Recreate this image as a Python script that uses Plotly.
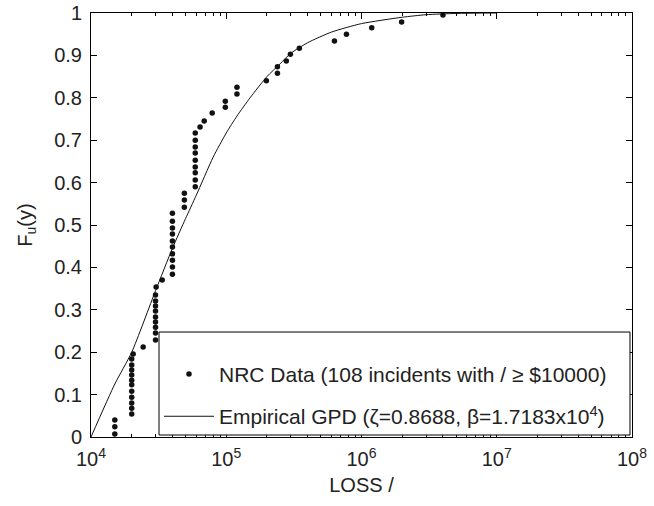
import plotly.graph_objects as go

# NRC loss data (empirical CDF points)
nrc_loss = [15000, 15000, 15000,
            20000, 20000, 20000, 20000, 20000, 20000, 20000, 20000, 20000, 20000, 20000,
            20500, 24300,
            30000, 30000, 30000, 30000, 30000, 30000, 30000, 30000, 30000,
            30300, 33600,
            40000, 40000, 40000, 40000, 40000, 40000, 40000, 40000, 40000, 40000,
            49000, 49000, 49000,
            59000, 59000, 59000, 59000, 59000, 59000, 59000, 59000, 59000,
            64000, 68700, 78700, 98400, 98400, 120000, 120000,
            198000, 239000, 239000, 278000, 298000, 347000,
            631000, 774000, 1190000, 1980000, 4000000]
nrc_cdf = [0.007, 0.024, 0.040,
           0.054, 0.068, 0.080, 0.094, 0.108, 0.123, 0.134, 0.146, 0.158, 0.170, 0.184,
           0.196, 0.212,
           0.229, 0.245, 0.259, 0.271, 0.283, 0.297, 0.309, 0.321, 0.335,
           0.354, 0.370,
           0.384, 0.401, 0.417, 0.432, 0.448, 0.462, 0.479, 0.493, 0.509, 0.528,
           0.542, 0.559, 0.575,
           0.590, 0.606, 0.623, 0.637, 0.653, 0.670, 0.684, 0.700, 0.717,
           0.731, 0.745, 0.764, 0.778, 0.792, 0.809, 0.825,
           0.840, 0.858, 0.873, 0.887, 0.903, 0.917,
           0.934, 0.950, 0.965, 0.979, 0.995]

# fitted GPD curve
gpd_loss = [1e4, 1.5e4, 2e4, 3e4, 4e4, 5e4, 6e4, 8e4, 1e5, 1.2e5, 1.5e5, 2e5, 2.5e5,
            3e5, 4e5, 6e5, 1e6, 2e6, 3e6, 5e6, 1e7]
gpd_cdf = [0.0, 0.125, 0.20, 0.345, 0.445, 0.515, 0.57, 0.66, 0.717, 0.757, 0.80, 0.85,
           0.88, 0.905, 0.93, 0.955, 0.975, 0.99, 0.996, 0.999, 1.0]

x_ticks = [1e4, 1e5, 1e6, 1e7, 1e8]
x_ticklabels = ["10<sup>4</sup>", "10<sup>5</sup>", "10<sup>6</sup>", "10<sup>7</sup>", "10<sup>8</sup>"]
minor_ticks = [m * 10 ** e for e in range(4, 8) for m in range(2, 10)]

fig = go.Figure()
fig.add_trace(go.Scatter(x=nrc_loss, y=nrc_cdf, mode="markers",
                         marker=dict(color="#111", size=5.5),
                         name="NRC Data (108 incidents with / \u2265 $10000)",
                         legendgroup="a"))
fig.add_trace(go.Scatter(x=gpd_loss, y=gpd_cdf, mode="lines",
                         line=dict(color="#111", width=1, shape="spline", smoothing=0.6),
                         name="Empirical GPD (\u03b6=0.8688, \u03b2=1.7183x10<sup>4</sup>)",
                         legendgroup="b"))

axis_style = dict(showline=True, linecolor="black", linewidth=1, mirror="allticks",
                  ticks="inside", ticklen=6, tickcolor="black", showgrid=False,
                  zeroline=False, automargin=False, ticklabeloverflow="allow",
                  tickfont=dict(size=20, color="#222"))

fig.update_xaxes(type="log", range=[4, 8], tickmode="array", tickvals=x_ticks,
                 ticktext=x_ticklabels, ticklabelstandoff=4,
                 minor=dict(ticks="inside", ticklen=3, tickcolor="black", tickvals=minor_ticks),
                 title=dict(text="LOSS /", font=dict(size=20, color="#222"), standoff=8),
                 **axis_style)
fig.update_yaxes(range=[0, 1], dtick=0.1, ticklabelstandoff=4,
                 title=dict(text="F<sub>u</sub>(y)", font=dict(size=20, color="#222"), standoff=16),
                 **axis_style)

# legend frame (wider than plotly's own legend box, like the original)
fig.add_shape(type="rect", xref="paper", yref="paper",
              x0=0.1257, x1=0.9963, y0=0.0047, y1=0.2476,
              line=dict(color="black", width=1), fillcolor="white", layer="above")

fig.update_layout(
    width=654, height=506,
    margin=dict(l=91, r=22, t=13, b=69),
    paper_bgcolor="white", plot_bgcolor="white",
    font=dict(family="Liberation Sans, Arial, sans-serif", color="#222"),
    legend=dict(x=0.1257, y=0.0, xanchor="left", yanchor="bottom",
                bgcolor="rgba(0,0,0,0)", borderwidth=0,
                font=dict(size=21, color="#222"), traceorder="grouped",
                tracegroupgap=12, itemwidth=50,
                title=dict(text=" ", font=dict(size=16))),
)

# drop the default 8px page margin so the figure sits at the window's corner
fig.write_html("out.html", config={"displayModeBar": False},
               post_script="document.body.style.margin='0px';")
